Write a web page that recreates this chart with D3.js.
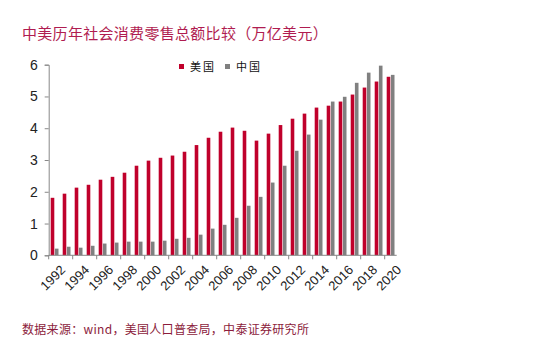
<!DOCTYPE html>
<html>
<head>
<meta charset="utf-8">
<script src="https://cdn.jsdelivr.net/npm/d3@7"></script>
<style>
  body { margin: 0; background: #fff; }
  svg { display: block; }
</style>
</head>
<body>
<div id="chart"></div>
<script>
// chart data: retail sales of consumer goods, trillion USD
const years = d3.range(1992, 2021).map(String);
const usValues = [1.81, 1.94, 2.13, 2.22, 2.38, 2.47, 2.60, 2.82, 2.98, 3.07,
                  3.14, 3.26, 3.47, 3.70, 3.89, 4.02, 3.92, 3.61, 3.83, 4.10,
                  4.30, 4.46, 4.65, 4.71, 4.84, 5.06, 5.28, 5.47, 5.62];
const cnValues = [0.21, 0.27, 0.24, 0.30, 0.37, 0.40, 0.43, 0.43, 0.43, 0.46,
                  0.52, 0.55, 0.65, 0.84, 0.96, 1.18, 1.56, 1.84, 2.29, 2.82,
                  3.29, 3.80, 4.27, 4.84, 4.99, 5.43, 5.75, 5.97, 5.68];
const yTicks = [0, 1, 2, 3, 4, 5, 6];
const seriesNames = ["美国", "中国"];
const seriesColors = ["#c0002b", "#808080"];

const width = 545, height = 361;
const cjk = "'Noto Sans CJK SC', sans-serif";
const latin = "'Liberation Sans', Arial, sans-serif";

const svg = d3.select("#chart").append("svg")
  .attr("width", width)
  .attr("height", height);

// title
svg.append("text")
  .attr("x", 22)
  .attr("y", 39)
  .attr("font-family", cjk)
  .attr("font-size", "15px")
  .attr("letter-spacing", "0.3px")
  .attr("fill", "#b01c50")
  .text("中美历年社会消费零售总额比较（万亿美元）");

// scales
const xScale = d3.scaleBand()
  .domain(years)
  .range([48.7, 396.7])
  .padding(0);

const yScale = d3.scaleLinear()
  .domain([0, 6])
  .range([255.3, 64.7]);

const bw = xScale.bandwidth();
const barW = 3.6;

// bars
const bars = svg.append("g");
bars.selectAll("rect.us")
  .data(usValues)
  .join("rect")
  .attr("class", "us")
  .attr("x", (d, i) => xScale(years[i]) + 2)
  .attr("y", d => yScale(d))
  .attr("width", barW)
  .attr("height", d => yScale(0) - yScale(d))
  .attr("fill", seriesColors[0]);

bars.selectAll("rect.cn")
  .data(cnValues)
  .join("rect")
  .attr("class", "cn")
  .attr("x", (d, i) => xScale(years[i]) + 2 + barW + 0.6)
  .attr("y", d => yScale(d))
  .attr("width", barW)
  .attr("height", d => yScale(0) - yScale(d))
  .attr("fill", seriesColors[1]);

// y axis
const yAxis = svg.append("g")
  .attr("transform", `translate(${xScale.range()[0]},0)`)
  .call(d3.axisLeft(yScale).tickValues(yTicks).tickFormat(d3.format("d"))
    .tickSize(4).tickPadding(7));
yAxis.select(".domain").attr("stroke", "#888");
yAxis.selectAll(".tick line").attr("stroke", "#888");
yAxis.selectAll("text")
  .attr("font-family", latin)
  .attr("font-size", "14px")
  .attr("fill", "#222");

// x axis: line plus ticks at every second category boundary
const xAxisG = svg.append("g")
  .attr("transform", `translate(0,${yScale(0)})`);
xAxisG.append("line")
  .attr("x1", xScale.range()[0])
  .attr("x2", xScale.range()[1])
  .attr("stroke", "#888");
xAxisG.selectAll("line.tick")
  .data(years.filter((d, i) => i % 2 === 0))
  .join("line")
  .attr("class", "tick")
  .attr("x1", d => xScale(d))
  .attr("x2", d => xScale(d))
  .attr("y1", 0)
  .attr("y2", 4)
  .attr("stroke", "#888");
xAxisG.selectAll("text")
  .data(years.filter((d, i) => i % 2 === 0))
  .join("text")
  .attr("transform", d => `translate(${xScale(d) + bw / 2 + 5},9) rotate(-45)`)
  .attr("text-anchor", "end")
  .attr("dy", "0.7em")
  .attr("font-family", latin)
  .attr("font-size", "13px")
  .attr("fill", "#222")
  .text(d => d);

// legend
const legend = svg.append("g");
const legendX = [179, 225];
seriesNames.forEach((name, i) => {
  legend.append("rect")
    .attr("x", legendX[i])
    .attr("y", 64)
    .attr("width", 5)
    .attr("height", 5)
    .attr("fill", seriesColors[i]);
  legend.append("text")
    .attr("x", legendX[i] + 11)
    .attr("y", 71)
    .attr("font-family", cjk)
    .attr("font-size", "11px")
    .attr("letter-spacing", "2px")
    .attr("fill", "#111")
    .text(name);
});

// source note
svg.append("text")
  .attr("x", 22)
  .attr("y", 334)
  .attr("font-family", cjk)
  .attr("font-size", "12px")
  .attr("letter-spacing", "0.3px")
  .attr("fill", "#8c1c3c")
  .text("数据来源：wind，美国人口普查局，中泰证券研究所");
</script>
</body>
</html>
